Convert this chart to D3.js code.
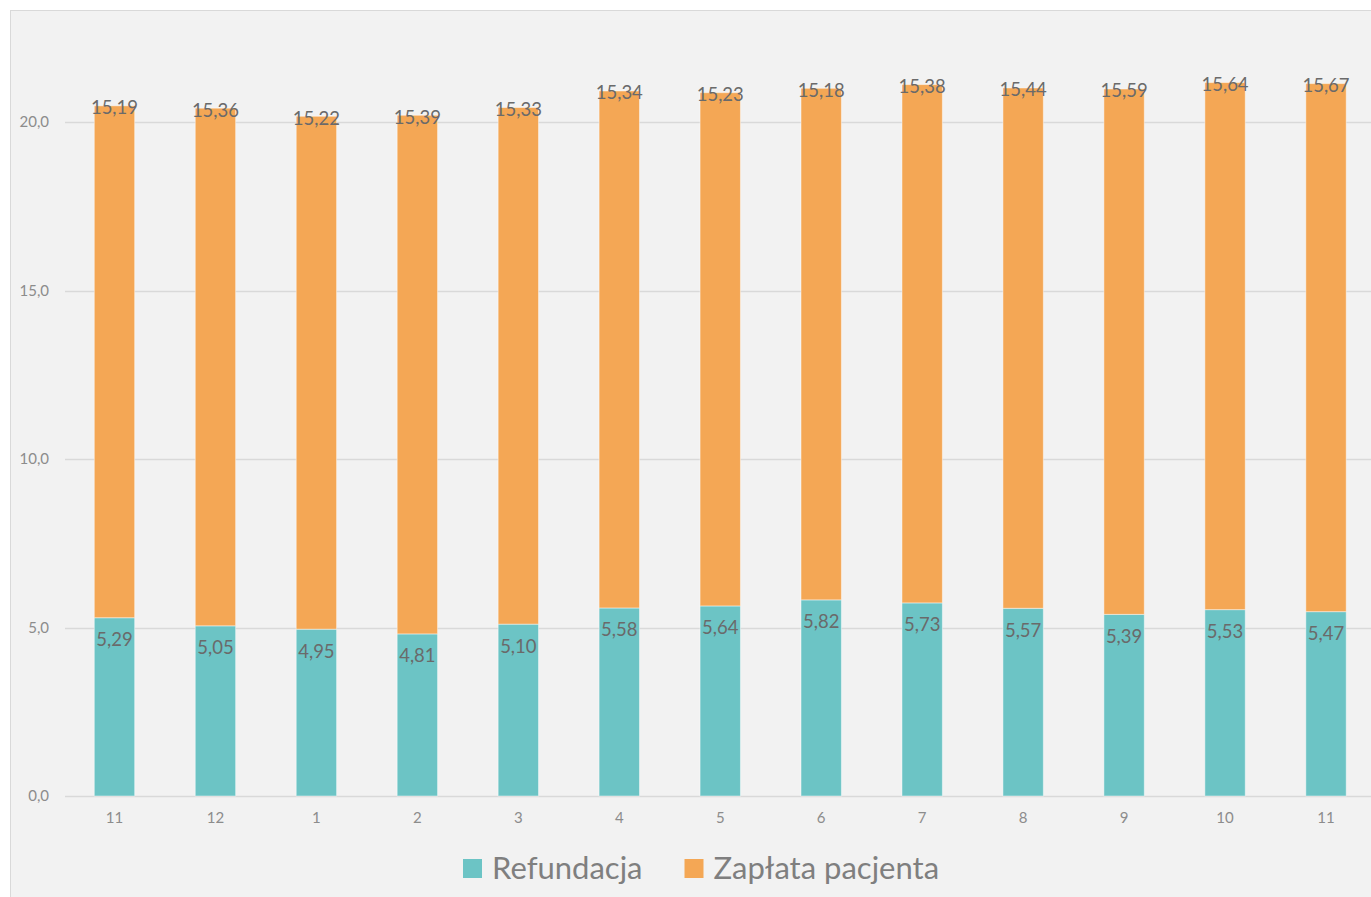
<!DOCTYPE html>
<html>
<head>
<meta charset="utf-8">
<script src="https://cdn.jsdelivr.net/npm/d3@7"></script>
<style>
  body { margin: 0; background: #fff; }
  svg { display: block; font-family: Lato, "Open Sans", sans-serif; }
</style>
</head>
<body>
<svg id="chart" width="1371" height="897"></svg>
<script>
  // months on the x axis (Nov .. Nov)
  var months = ["11", "12", "1", "2", "3", "4", "5", "6", "7", "8", "9", "10", "11"];
  var refundacja = [5.29, 5.05, 4.95, 4.81, 5.10, 5.58, 5.64, 5.82, 5.73, 5.57, 5.39, 5.53, 5.47];
  var zaplata = [15.19, 15.36, 15.22, 15.39, 15.33, 15.34, 15.23, 15.18, 15.38, 15.44, 15.59, 15.64, 15.67];
  var yTicks = [0, 5, 10, 15, 20];
  var seriesNames = ["Refundacja", "Zapłata pacjenta"];
  var colors = ["#6cc4c5", "#f4a755"];

  var svg = d3.select("#chart");

  // chart area frame
  svg.append("rect")
      .attr("x", 10.5).attr("y", 10.5)
      .attr("width", 1400).attr("height", 1000)
      .attr("fill", "#f2f2f2")
      .attr("stroke", "#d9d9d9");

  var x = d3.scaleBand()
      .domain(d3.range(months.length))
      .range([64, 1376.5])
      .paddingInner(0.6)
      .paddingOuter(0.3);

  var y = d3.scaleLinear()
      .domain([0, 20])
      .range([796, 122]);

  var fmt = function(v) { return d3.format(".2f")(v).replace(".", ","); };

  // gridlines
  svg.append("g").selectAll("line")
      .data(yTicks)
    .enter().append("line")
      .attr("x1", 65).attr("x2", 1371)
      .attr("y1", function(d) { return Math.round(y(d)) + 0.5; })
      .attr("y2", function(d) { return Math.round(y(d)) + 0.5; })
      .attr("stroke", "#d9d9d9")
      .attr("stroke-width", 1.3);

  // y axis labels
  var yAxis = d3.axisLeft(y).tickValues(yTicks).tickSize(0).tickPadding(0)
      .tickFormat(function(d) { return d3.format(".1f")(d).replace(".", ","); });
  var gy = svg.append("g").attr("transform", "translate(49,0)").call(yAxis);
  gy.select(".domain").remove();
  gy.selectAll("text").attr("fill", "#8c8c8c").style("font-size", "15px").style("font-family", "Lato, sans-serif");

  // x axis labels
  var xAxis = d3.axisBottom(x).tickSize(0).tickPadding(0)
      .tickFormat(function(i) { return months[i]; });
  var gx = svg.append("g").attr("transform", "translate(0,812)").call(xAxis);
  gx.select(".domain").remove();
  gx.selectAll("text").attr("fill", "#8c8c8c").style("font-size", "15px").style("font-family", "Lato, sans-serif");

  // stack data
  var rows = months.map(function(m, i) { return { i: i, r: refundacja[i], z: zaplata[i] }; });
  var stack = d3.stack().keys(["r", "z"])(rows);

  var layer = svg.append("g").selectAll("g")
      .data(stack)
    .enter().append("g")
      .attr("fill", function(d, k) { return colors[k]; });

  layer.selectAll("rect")
      .data(function(d) { return d; })
    .enter().append("rect")
      .attr("x", function(d) { return x(d.data.i); })
      .attr("width", x.bandwidth())
      .attr("y", function(d) { return y(d[1]); })
      .attr("height", function(d) { return y(d[0]) - y(d[1]); })
      .attr("stroke", "rgba(255,255,255,0.45)")
      .attr("stroke-width", 1);

  // data labels
  layer.each(function(s, k) {
    d3.select(this).selectAll("text")
        .data(s)
      .enter().append("text")
        .attr("x", function(d) { return x(d.data.i) + x.bandwidth() / 2; })
        .attr("y", function(d) { return y(d[1]) + (k === 0 ? 22 : 2); })
        .attr("dy", "0.35em")
        .attr("text-anchor", "middle")
        .attr("fill", "#6a6a6a")
        .style("font-size", "18.5px")
        .text(function(d) { return fmt(d[1] - d[0]); });
  });

  // legend
  var legend = svg.append("g");
  var lx = 463;
  seriesNames.forEach(function(name, k) {
    legend.append("rect")
        .attr("x", lx).attr("y", 859)
        .attr("width", 19).attr("height", 19)
        .attr("fill", colors[k]);
    var t = legend.append("text")
        .attr("x", lx + 29).attr("y", 868)
        .attr("dy", "0.35em")
        .attr("fill", "#7f7f7f")
        .style("font-size", "31px")
        .text(name);
    lx = lx + 29 + t.node().getComputedTextLength() + 42;
  });
</script>
</body>
</html>
